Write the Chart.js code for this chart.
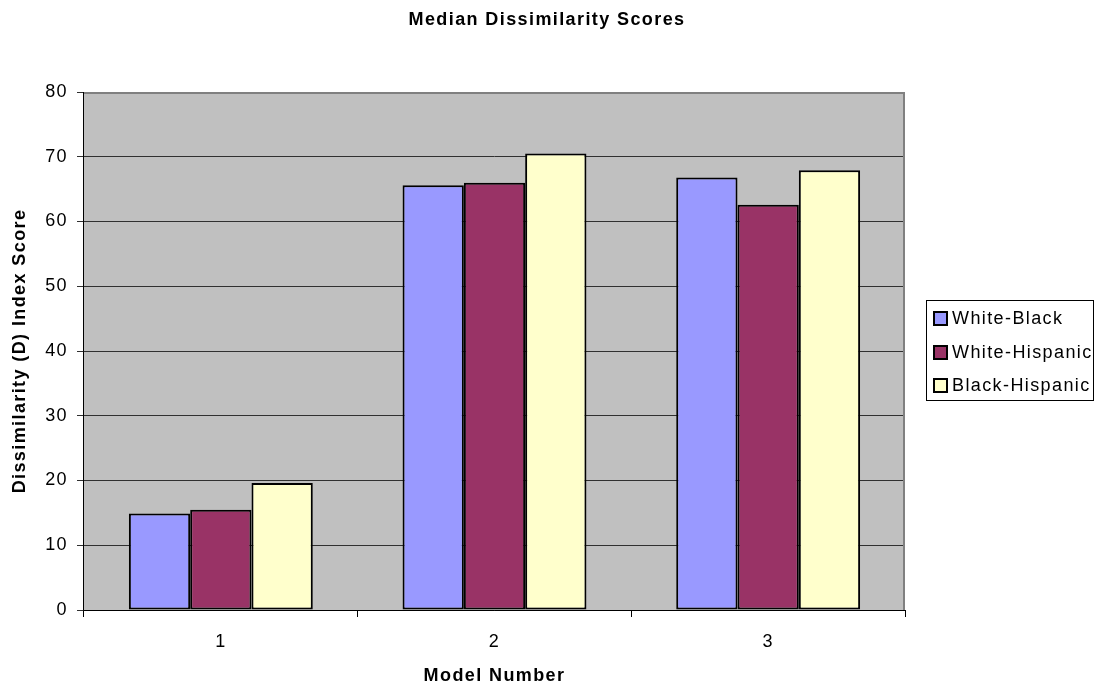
<!DOCTYPE html>
<html>
<head>
<meta charset="utf-8">
<title>Median Dissimilarity Scores</title>
<script src="https://cdn.jsdelivr.net/npm/chart.js@4/dist/chart.umd.min.js"></script>
<style>
  html, body { margin: 0; padding: 0; background: #ffffff; }
  #wrap { width: 1095px; height: 687px; position: relative; }
</style>
</head>
<body>
<div id="wrap"><canvas id="chart" width="1095" height="687"></canvas></div>
<script>
// Median dissimilarity (D) index by model
const models = ['1', '2', '3'];
const whiteBlack = [14.9, 65.6, 66.8];
const whiteHispanic = [15.5, 66.0, 62.6];
const blackHispanic = [19.6, 70.5, 67.9];
const seriesNames = ['White-Black', 'White-Hispanic', 'Black-Hispanic'];
const seriesColors = ['#9999FF', '#993366', '#FFFFCC'];
const yTicks = [0, 10, 20, 30, 40, 50, 60, 70, 80];

const FONT = 'Arial, "Liberation Sans", sans-serif';
const SPACING = '1.4px';

const canvas = document.getElementById('chart');
// slightly widened character spacing for all chart text
canvas.getContext('2d').letterSpacing = SPACING;

// Plot background and gray frame
const plotFrame = {
  id: 'plotFrame',
  beforeDraw(chart) {
    const { ctx, chartArea: a } = chart;
    ctx.letterSpacing = SPACING;
    ctx.save();
    ctx.fillStyle = '#C0C0C0';
    ctx.fillRect(a.left, a.top, a.right - a.left, a.bottom - a.top);
    ctx.restore();
  },
  afterDatasetsDraw(chart) {
    const { ctx, chartArea: a } = chart;
    ctx.save();
    ctx.strokeStyle = '#808080';
    ctx.lineWidth = 2;
    ctx.beginPath();
    ctx.moveTo(a.left, a.top + 1);
    ctx.lineTo(a.right - 1, a.top + 1);
    ctx.lineTo(a.right - 1, a.bottom);
    ctx.stroke();
    // black axis lines
    ctx.strokeStyle = '#000000';
    ctx.lineWidth = 1;
    ctx.beginPath();
    ctx.moveTo(a.left - 0.5, a.top);
    ctx.lineTo(a.left - 0.5, a.bottom + 0.5);
    ctx.lineTo(a.right, a.bottom + 0.5);
    ctx.stroke();
    ctx.restore();
  }
};

// Title and boxed legend on the right
const chartText = {
  id: 'chartText',
  afterDraw(chart) {
    const { ctx } = chart;
    ctx.save();
    ctx.letterSpacing = SPACING;
    ctx.fillStyle = '#000000';
    ctx.font = 'bold 18px ' + FONT;
    ctx.textAlign = 'left';
    ctx.textBaseline = 'middle';
    const title = 'Median Dissimilarity Scores';
    const tw = ctx.measureText(title).width;
    ctx.fillText(title, 547 - tw / 2, 20);

    // legend box
    const bx = 926.5, by = 300.5, bw = 167, bh = 100;
    ctx.strokeStyle = '#000000';
    ctx.lineWidth = 1;
    ctx.strokeRect(bx, by, bw, bh);
    ctx.font = '18px ' + FONT;
    const rows = [318, 352, 385];
    chart.data.datasets.forEach((ds, i) => {
      const y = rows[i];
      ctx.fillStyle = ds.backgroundColor;
      ctx.fillRect(934, y - 6, 13, 13);
      ctx.lineWidth = 2;
      ctx.strokeStyle = '#000000';
      ctx.strokeRect(934, y - 6, 13, 13);
      ctx.fillStyle = '#000000';
      ctx.fillText(ds.label, 952, y + 1);
    });
    ctx.restore();
  }
};

const datasets = [whiteBlack, whiteHispanic, blackHispanic].map((vals, i) => ({
  label: seriesNames[i],
  data: vals,
  backgroundColor: seriesColors[i],
  borderColor: '#000000',
  borderWidth: 2,
  borderSkipped: false,
  categoryPercentage: 0.672,
  barPercentage: 1.0
}));

new Chart(canvas, {
  type: 'bar',
  data: { labels: models, datasets },
  plugins: [plotFrame, chartText],
  options: {
    responsive: false,
    animation: false,
    devicePixelRatio: 1,
    layout: { padding: { top: 92, right: 190, left: 0, bottom: 0 } },
    plugins: {
      legend: { display: false },
      title: { display: false },
      tooltip: { enabled: false }
    },
    scales: {
      x: {
        grid: {
          offset: true,
          drawOnChartArea: false,
          drawTicks: true,
          tickLength: 7,
          color: '#000000'
        },
        border: { display: false },
        ticks: {
          color: '#000000',
          font: { family: FONT, size: 18 },
          padding: 14
        },
        title: {
          display: true,
          text: 'Model Number',
          color: '#000000',
          font: { family: FONT, size: 18, weight: 'bold' },
          padding: { top: 12, bottom: 0 }
        },
        afterFit(scale) { scale.height = 77; }
      },
      y: {
        min: 0,
        max: 80,
        afterBuildTicks(scale) { scale.ticks = yTicks.map(v => ({ value: v })); },
        grid: {
          color: '#303030',
          lineWidth: 1,
          drawTicks: true,
          tickLength: 7
        },
        border: { display: false },
        ticks: {
          color: '#000000',
          font: { family: FONT, size: 18 },
          padding: 9
        },
        title: {
          display: true,
          text: 'Dissimilarity (D) Index Score',
          color: '#000000',
          font: { family: FONT, size: 18, weight: 'bold' },
          padding: { top: 9, bottom: 6 }
        },
        afterFit(scale) { scale.width = 84; }
      }
    }
  }
});
</script>
</body>
</html>
